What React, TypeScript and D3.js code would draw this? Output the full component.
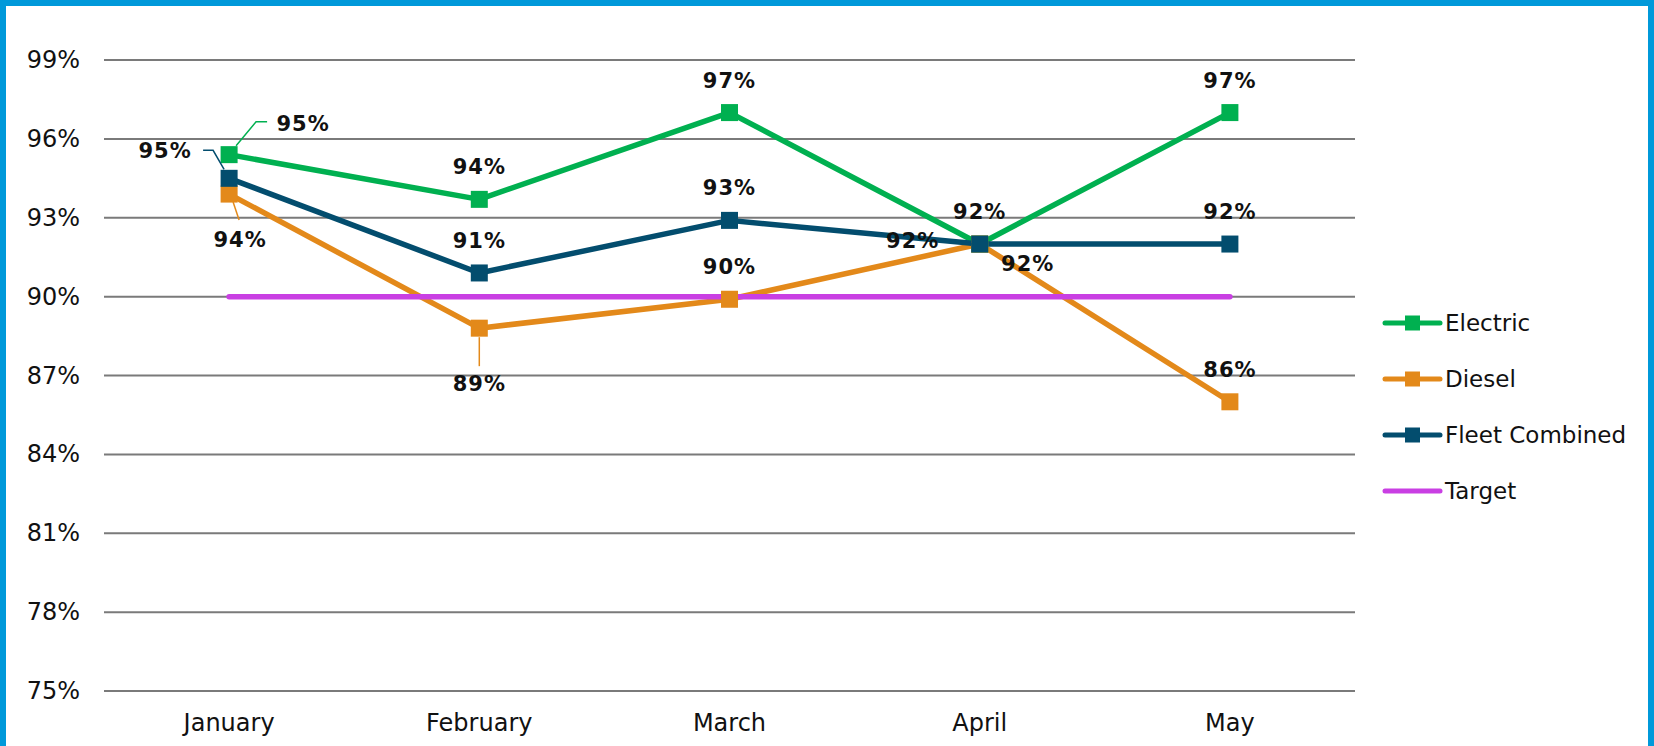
import React from 'react';
import * as d3 from 'd3';

// chart data
const months = ['January', 'February', 'March', 'April', 'May'];
const electric = [0.954, 0.937, 0.970, 0.920, 0.970];
const diesel = [0.939, 0.888, 0.899, 0.920, 0.860];
const fleet = [0.945, 0.909, 0.929, 0.920, 0.920];
const target = [0.9, 0.9, 0.9, 0.9, 0.9];
const yTicks = [0.75, 0.78, 0.81, 0.84, 0.87, 0.9, 0.93, 0.96, 0.99];

const W = 1654;
const H = 746;
const FONT = '"DejaVu Sans", Verdana, sans-serif';

// label placement per point: text offset + optional leader line (relative to marker)
type Place = { dx: number; dy: number; leader?: [number, number][] };
const above: Place = { dx: 0, dy: -32 };

const series = [
  {
    name: 'Electric',
    values: electric,
    color: '#00B050',
    marker: true,
    places: [
      { dx: 74, dy: -31, leader: [[7, -9], [27, -33], [38, -33]] },
      above, above, above, above,
    ] as Place[],
  },
  {
    name: 'Diesel',
    values: diesel,
    color: '#E3891A',
    marker: true,
    places: [
      { dx: 11, dy: 46, leader: [[4, 8], [10, 26]] },
      { dx: 0, dy: 56, leader: [[0, 9], [0, 38]] },
      above,
      { dx: 48, dy: 20 },
      above,
    ] as Place[],
  },
  {
    name: 'Fleet Combined',
    values: fleet,
    color: '#034D6E',
    marker: true,
    places: [
      { dx: -64, dy: -27, leader: [[-5, -9], [-16, -28], [-26, -28]] },
      above, above,
      { dx: -67, dy: -3, leader: [[-8, 0], [-30, -3]] },
      above,
    ] as Place[],
  },
  {
    name: 'Target',
    values: target,
    color: '#C93FE3',
    marker: false,
    places: [] as Place[],
  },
];

const App = () => {
  const x = d3.scaleBand<string>().domain(months).range([104, 1355]).padding(0);
  const cx = (m: string) => (x(m) as number) + x.bandwidth() / 2;
  const y = d3.scaleLinear().domain([0.75, 0.99]).range([691, 60]);
  const fmt = d3.format('.0%');

  const line = d3
    .line<number>()
    .x((_, i) => cx(months[i]))
    .y((d) => y(d));

  const ms = 17; // marker size

  return (
    <>
      <style>{'body{margin:0}'}</style>
      <svg width={W} height={H} style={{ display: 'block', fontFamily: FONT }}>
        <rect x={0} y={0} width={W} height={H} fill="#fff" />

        {/* gridlines + y labels */}
        {yTicks.map((t) => (
          <g key={t}>
            <line x1={104} x2={1355} y1={y(t)} y2={y(t)} stroke="#7a7a7a" strokeWidth={2} />
            <text x={80} y={y(t)} textAnchor="end" dominantBaseline="central" fontSize={24} fill="#111">
              {fmt(t)}
            </text>
          </g>
        ))}

        {/* x labels */}
        {months.map((m) => (
          <text key={m} x={cx(m)} y={723} textAnchor="middle" dominantBaseline="central" fontSize={24} fill="#111">
            {m}
          </text>
        ))}

        {/* lines */}
        {series.map((s) => (
          <path
            key={s.name}
            d={line(s.values) || ''}
            fill="none"
            stroke={s.color}
            strokeWidth={5.5}
            strokeLinejoin="round"
            strokeLinecap={s.marker ? 'butt' : 'round'}
          />
        ))}

        {/* markers */}
        {series
          .filter((s) => s.marker)
          .map((s) =>
            s.values.map((v, i) => (
              <rect
                key={s.name + i}
                x={cx(months[i]) - ms / 2}
                y={y(v) - ms / 2}
                width={ms}
                height={ms}
                fill={s.color}
              />
            ))
          )}

        {/* data labels */}
        {series
          .filter((s) => s.marker)
          .map((s) =>
            s.values.map((v, i) => {
              const p = s.places[i];
              const px = cx(months[i]);
              const py = y(v);
              return (
                <g key={s.name + 'l' + i}>
                  {p.leader && (
                    <polyline
                      points={p.leader.map(([a, b]) => `${px + a},${py + b}`).join(' ')}
                      fill="none"
                      stroke={s.color}
                      strokeWidth={1.5}
                    />
                  )}
                  <text
                    x={px + p.dx}
                    y={py + p.dy}
                    textAnchor="middle"
                    dominantBaseline="central"
                    fontSize={21}
                    fontWeight="bold"
                    letterSpacing={1}
                    fill="#111"
                  >
                    {fmt(v)}
                  </text>
                </g>
              );
            })
          )}

        {/* legend */}
        {series.map((s, i) => {
          const ly = 323 + i * 56;
          return (
            <g key={s.name + 'leg'}>
              <line x1={1385} x2={1440} y1={ly} y2={ly} stroke={s.color} strokeWidth={5} strokeLinecap="round" />
              {s.marker && <rect x={1405} y={ly - 7.5} width={15} height={15} fill={s.color} />}
              <text x={1445} y={ly} dominantBaseline="central" fontSize={23} fill="#111">
                {s.name}
              </text>
            </g>
          );
        })}

        {/* frame */}
        <rect x={3} y={3} width={W - 6} height={H + 20} fill="none" stroke="#0099DA" strokeWidth={6} />
      </svg>
    </>
  );
};

export default App;
